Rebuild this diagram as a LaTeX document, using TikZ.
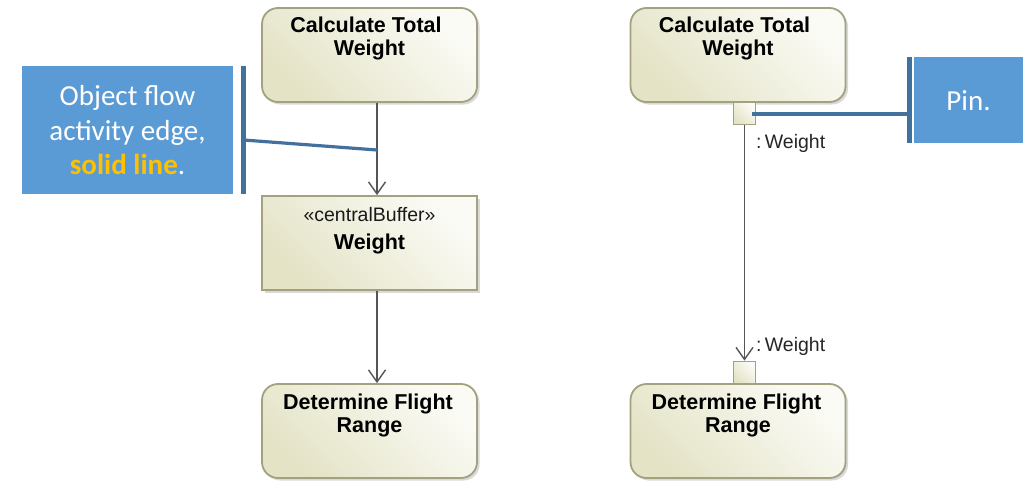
\documentclass[tikz,border=0pt]{standalone}
\usepackage{fontspec}
\setmainfont{Liberation Sans}
\newfontfamily\calfont{Carlito}
\usetikzlibrary{arrows.meta,shadows}
\definecolor{bfillA}{HTML}{E4E3C6}
\definecolor{bfillB}{HTML}{FBFBF6}
\definecolor{bdraw}{HTML}{A3A180}
\definecolor{callblue}{HTML}{5B9BD5}
\definecolor{calldark}{HTML}{41719C}
\definecolor{orng}{HTML}{FFC000}
\definecolor{flowgray}{HTML}{555555}
\begin{document}
\begin{tikzpicture}[x=1pt,y=-1pt,
  boxbase/.style={draw=bdraw, line width=1.8pt, inner sep=0pt,
    top color=bfillB, bottom color=bfillA, shading angle=-45},
  shad/.style={drop shadow={shadow xshift=2.5pt,shadow yshift=-2.5pt,fill=black!25,opacity=0.6}},
  actbox/.style={boxbase, shad, rounded corners=16pt, minimum width=215pt, minimum height=94pt},
  bufbox/.style={boxbase, shad, minimum width=215pt, minimum height=94pt},
  pinbox/.style={boxbase, minimum width=22pt, minimum height=22pt},
  ttl/.style={font=\fontsize{21.5}{23}\selectfont\bfseries, inner sep=0pt, anchor=base, text=black},
  stereo/.style={font=\fontsize{19.5}{22}\selectfont, inner sep=0pt, anchor=base, text=black!90},
  pinlbl/.style={font=\fontsize{19.5}{22}\selectfont, inner sep=0pt, anchor=base west, text=black!85},
  flow/.style={draw=flowgray, line width=1.4pt, -{Straight Barb[length=12pt,width=17pt,line width=1.4pt]}},
  callbox/.style={fill=callblue, draw=none, inner sep=0pt},
  calltxt/.style={font=\calfont\fontsize{29}{35}\selectfont, text=white, inner sep=0pt, anchor=base},
  bracket/.style={draw=calldark, line width=4.5pt},
  callline/.style={draw=calldark, line width=3.2pt}
]
\useasboundingbox (0,0) rectangle (1030,482);

% ---------- left column ----------
\node[actbox] (cal1) at (369.5,55) {};
\node[ttl] (cal1a) at (366,32) {Calculate Total};
\node[ttl] (cal1b) at (369.5,55) {Weight};

\node[bufbox] (buf) at (369.5,243) {};
\node[stereo] (bufa) at (369.5,221) {«centralBuffer»};
\node[ttl] (bufb) at (369.5,249) {Weight};

\node[actbox] (det1) at (369.5,431) {};
\node[ttl] (det1a) at (368,409) {Determine Flight};
\node[ttl] (det1b) at (369.5,432) {Range};

\coordinate (ax) at (377,0);
\draw[flow] (cal1.south -| ax) -- (buf.north -| ax);
\draw[flow] (buf.south -| ax) -- (det1.north -| ax);

% ---------- right column ----------
\node[actbox] (cal2) at (738,55) {};
\node[ttl] (cal2a) at (734.5,32) {Calculate Total};
\node[ttl] (cal2b) at (738,55) {Weight};

\node[actbox] (det2) at (738,431) {};
\node[ttl] (det2a) at (736.5,409) {Determine Flight};
\node[ttl] (det2b) at (738,432) {Range};

\node[pinbox] (pin1) at (744.5,113.5) {};
\node[pinbox] (pin2) at (744.5,372.5) {};
\draw[flow] (pin1.south) -- (pin2.north);
\node[pinlbl] (pl1) at (756,148) {:\,Weight};
\node[pinlbl] (pl2) at (756,351) {:\,Weight};

% ---------- callout: object flow ----------
\node[callbox, minimum width=211pt, minimum height=128pt] (c1) at (127.5,130) {};
\node[calltxt] (c1a) at (127.5,105) {Object flow};
\node[calltxt] (c1b) at (127.5,140) {activity edge,};
\node[calltxt] (c1c) at (127.5,174) {\textcolor{orng}{\bfseries solid line}.};
\coordinate (br1t) at (243.5,66);
\coordinate (br1b) at (243.5,194);
\coordinate (br1m) at (243.5,140);
\coordinate (e1) at (377,150);
\draw[bracket] (br1t) -- (br1b);
\draw[callline] (br1m) -- (e1);

% ---------- callout: pin ----------
\node[callbox, minimum width=109pt, minimum height=86pt] (c2) at (968.5,100) {};
\node[calltxt] (c2a) at (968.5,110) {Pin.};
\coordinate (br2t) at (909.5,57);
\coordinate (br2b) at (909.5,143);
\coordinate (br2m) at (909.5,114);
\coordinate (e2) at (752,114);
\draw[bracket] (br2t) -- (br2b);
\draw[callline] (br2m) -- (e2);
\end{tikzpicture}
\end{document}
